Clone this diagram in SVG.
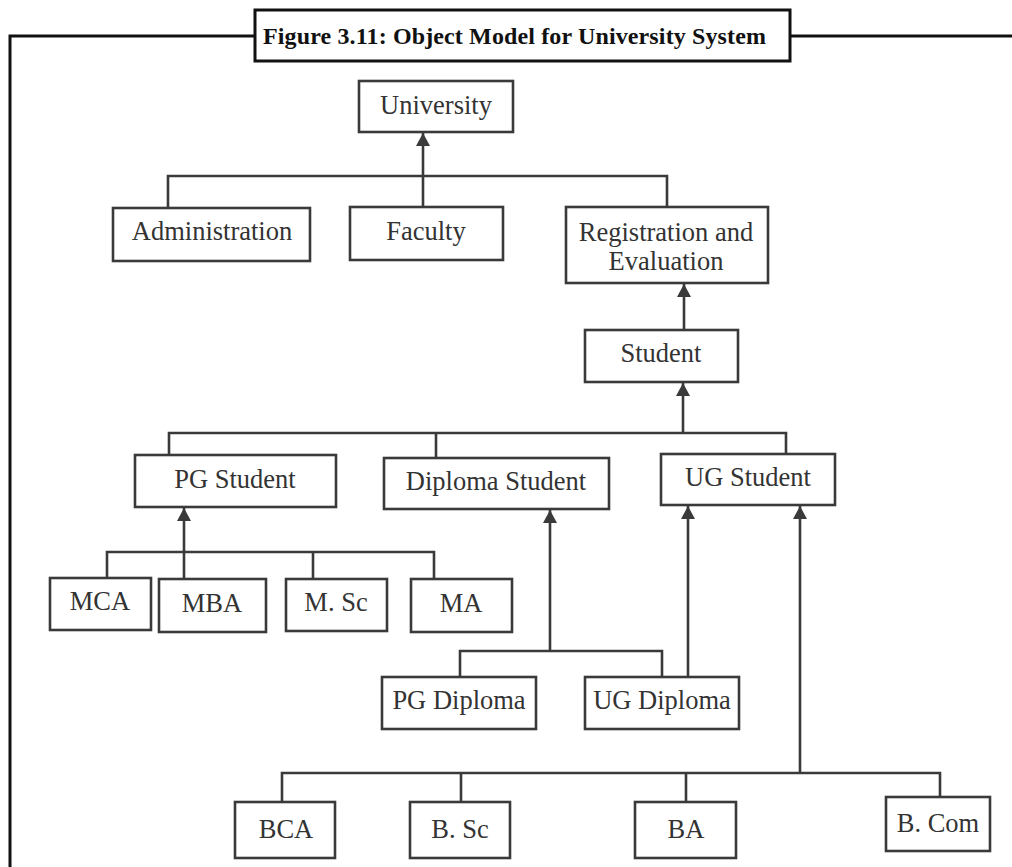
<svg xmlns="http://www.w3.org/2000/svg" width="1012" height="867" viewBox="0 0 1012 867">
  <style>
    .frame { fill: none; stroke: #111; stroke-width: 3; }
    .box { fill: #fff; stroke: #3a3a3a; stroke-width: 2.6; }
    .wire { fill: none; stroke: #3a3a3a; stroke-width: 2.6; }
    .arrow { fill: none; stroke: #3a3a3a; stroke-width: 2.6; marker-end: url(#head); }
    .lbl { font-family: "Liberation Serif", "Times New Roman", serif; font-size: 26.5px; fill: #333; text-anchor: middle; }
    .title { font-family: "Liberation Serif", "Times New Roman", serif; font-size: 24px; font-weight: bold; fill: #111; }
  </style>
  <defs>
    <marker id="head" markerUnits="userSpaceOnUse" markerWidth="14" markerHeight="14" viewBox="0 0 14 14" refX="13" refY="7" orient="auto">
      <path d="M0,0 L13,7 L0,14 Z" fill="#3a3a3a"/>
    </marker>
  </defs>
  <rect width="1012" height="867" fill="#fff"/>

  <!-- figure frame with caption -->
  <g id="frame">
    <path class="frame" d="M10,867 V36 H255 M790,36 H1012"/>
    <rect class="frame" x="255" y="10" width="535" height="51" fill="#fff"/>
    <text class="title" x="263" y="44" textLength="503" lengthAdjust="spacing">Figure 3.11: Object Model for University System</text>
  </g>

  <!-- connectors -->
  <g id="connectors">
    <!-- University and its parts -->
    <path class="arrow" d="M423,176 V133"/>
    <path class="wire" d="M168,208 V176 H667 V207 M423,176 V207"/>
    <!-- Student to Registration and Evaluation -->
    <path class="arrow" d="M684,331 V284"/>
    <!-- Student kinds -->
    <path class="arrow" d="M683,433 V383"/>
    <path class="wire" d="M169,456 V433 H786 V454 M436,433 V458"/>
    <!-- PG programmes -->
    <path class="arrow" d="M184,552 V508"/>
    <path class="wire" d="M107,578 V552 H434 V579 M184,552 V579 M313,552 V579"/>
    <!-- Diploma programmes -->
    <path class="arrow" d="M550,651 V510"/>
    <path class="wire" d="M460,677 V651 H662 V677"/>
    <!-- UG Diploma to UG Student -->
    <path class="arrow" d="M688,677 V506"/>
    <!-- UG programmes -->
    <path class="arrow" d="M800,773 V506"/>
    <path class="wire" d="M282,802 V773 H940 V797 M461,773 V802 M686,773 V802"/>
  </g>

  <g id="university">
    <rect class="box" x="359" y="81" width="154" height="51"/>
    <text class="lbl" x="436" y="114">University</text>
  </g>
  <g id="administration">
    <rect class="box" x="113" y="208" width="197" height="53"/>
    <text class="lbl" x="212" y="240">Administration</text>
  </g>
  <g id="faculty">
    <rect class="box" x="350" y="207" width="153" height="53"/>
    <text class="lbl" x="426" y="240">Faculty</text>
  </g>
  <g id="registration">
    <rect class="box" x="566" y="207" width="202" height="76"/>
    <text class="lbl" x="666" y="241">Registration and</text>
    <text class="lbl" x="666" y="270">Evaluation</text>
  </g>
  <g id="student">
    <rect class="box" x="585" y="330" width="153" height="52"/>
    <text class="lbl" x="661" y="362">Student</text>
  </g>
  <g id="pg-student">
    <rect class="box" x="135" y="455" width="201" height="52"/>
    <text class="lbl" x="235" y="488">PG Student</text>
  </g>
  <g id="diploma-student">
    <rect class="box" x="384" y="458" width="225" height="51"/>
    <text class="lbl" x="496" y="490">Diploma Student</text>
  </g>
  <g id="ug-student">
    <rect class="box" x="661" y="454" width="174" height="51"/>
    <text class="lbl" x="748" y="486">UG Student</text>
  </g>
  <g id="mca">
    <rect class="box" x="50" y="578" width="101" height="52"/>
    <text class="lbl" x="100" y="610">MCA</text>
  </g>
  <g id="mba">
    <rect class="box" x="159" y="579" width="107" height="53"/>
    <text class="lbl" x="212" y="612">MBA</text>
  </g>
  <g id="msc">
    <rect class="box" x="286" y="579" width="101" height="52"/>
    <text class="lbl" x="336" y="611">M. Sc</text>
  </g>
  <g id="ma">
    <rect class="box" x="411" y="579" width="101" height="53"/>
    <text class="lbl" x="461" y="612">MA</text>
  </g>
  <g id="pg-diploma">
    <rect class="box" x="382" y="677" width="154" height="52"/>
    <text class="lbl" x="459" y="709">PG Diploma</text>
  </g>
  <g id="ug-diploma">
    <rect class="box" x="585" y="677" width="154" height="52"/>
    <text class="lbl" x="662" y="709">UG Diploma</text>
  </g>
  <g id="bca">
    <rect class="box" x="235" y="802" width="100" height="56"/>
    <text class="lbl" x="286" y="838">BCA</text>
  </g>
  <g id="bsc">
    <rect class="box" x="410" y="802" width="100" height="56"/>
    <text class="lbl" x="460" y="838">B. Sc</text>
  </g>
  <g id="ba">
    <rect class="box" x="635" y="802" width="101" height="56"/>
    <text class="lbl" x="686" y="838">BA</text>
  </g>
  <g id="bcom">
    <rect class="box" x="886" y="797" width="104" height="54"/>
    <text class="lbl" x="938" y="832">B. Com</text>
  </g>
</svg>
